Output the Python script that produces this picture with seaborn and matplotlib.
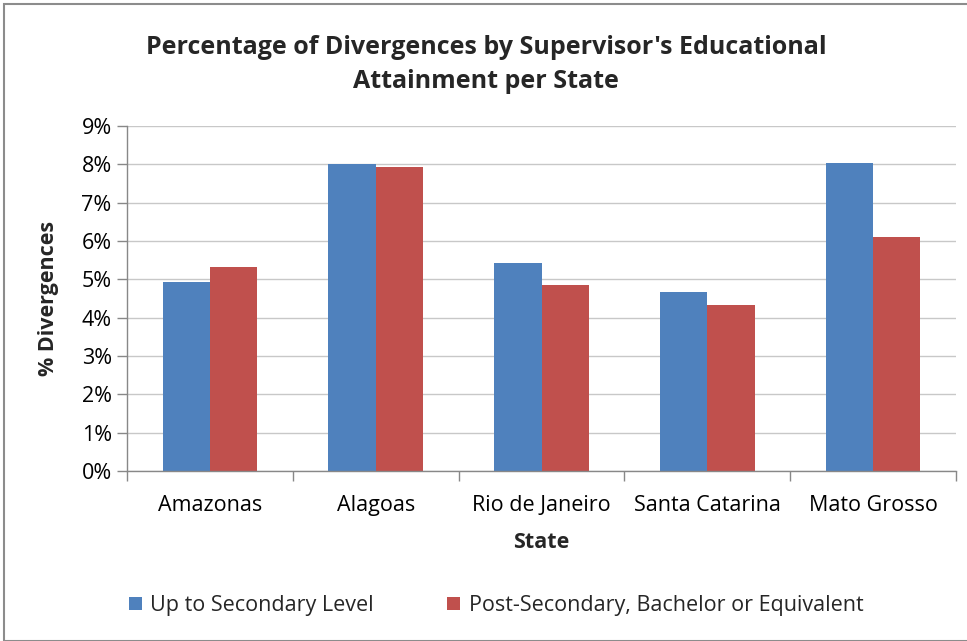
import matplotlib
matplotlib.use("Agg")
import matplotlib.pyplot as plt
from matplotlib.patches import Rectangle
from matplotlib.ticker import PercentFormatter, FixedLocator
import seaborn as sns
import pandas as pd

states = ["Amazonas", "Alagoas", "Rio de Janeiro", "Santa Catarina", "Mato Grosso"]
up_to_secondary = [4.92, 8.01, 5.42, 4.66, 8.04]
post_secondary = [5.32, 7.93, 4.86, 4.32, 6.11]
series_names = ["Up to Secondary Level", "Post-Secondary, Bachelor or Equivalent"]
colors = ["#4F81BD", "#C0504D"]

df = pd.DataFrame({
    "State": states * 2,
    "Value": up_to_secondary + post_secondary,
    "Level": [series_names[0]] * len(states) + [series_names[1]] * len(states),
})

sns.set_theme(style="white")
plt.rcParams["font.family"] = ["Open Sans", "DejaVu Sans"]

fig = plt.figure(figsize=(9.67, 6.41), dpi=100)
ax = fig.add_axes([127 / 967, 1 - 471 / 641, (956 - 127) / 967, (471 - 126) / 641])

sns.barplot(data=df, x="State", y="Value", hue="Level", palette=colors,
            width=0.571, saturation=1, ax=ax, edgecolor="none", legend=True)

ax.set_ylim(0, 9)
ax.set_xlim(-0.5, 4.5)
ax.yaxis.set_major_locator(FixedLocator(range(0, 10)))
ax.yaxis.set_major_formatter(PercentFormatter(decimals=0))
ax.grid(axis="y", color="#C8C8C8", linewidth=1)
ax.set_axisbelow(True)

for side in ["top", "right"]:
    ax.spines[side].set_visible(False)
for side in ["left", "bottom"]:
    ax.spines[side].set_color("#888888")
    ax.spines[side].set_linewidth(1)

# category separators as tick marks on the x axis
ax.set_xticks(range(len(states)))
ax.set_xticks([i - 0.5 for i in range(len(states) + 1)], minor=True)
ax.tick_params(axis="x", which="major", length=0, pad=17, labelsize=15.5, labelcolor="black")
ax.tick_params(axis="x", which="minor", length=7, color="#888888", width=1, direction="out", bottom=True)
ax.tick_params(axis="y", which="major", length=7, color="#888888", width=1, direction="out",
               left=True, labelsize=15.5, labelcolor="black", pad=4)

ax.set_xlabel("State", fontsize=15.5, fontweight="bold", labelpad=12)
ax.set_ylabel("% Divergences", fontsize=15.5, fontweight="bold", labelpad=16)

fig.suptitle("Percentage of Divergences by Supervisor's Educational\nAttainment per State",
             x=0.503, y=0.945, fontsize=18, fontweight="bold", linespacing=1.45)

ax.legend(loc="center", bbox_to_anchor=(0.445, -0.39), ncol=2, frameon=False,
          fontsize=15.5, handlelength=0.6, handleheight=0.6, handletextpad=0.4,
          columnspacing=3.4, title=None)

fig.patches.append(Rectangle((4 / 967, 0.0), 1.0, 1 - 4 / 641, transform=fig.transFigure,
                             fill=False, edgecolor="#8C8C8C", linewidth=1.5))

fig.savefig("out.png", dpi=100, facecolor="white")
